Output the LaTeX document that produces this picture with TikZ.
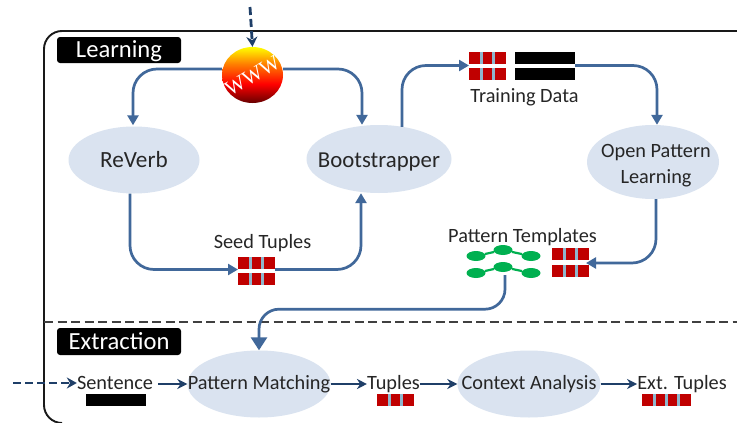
\documentclass[tikz,border=0pt]{standalone}
\usepackage{fontspec}
\setmainfont{Carlito}
\newfontfamily\wwwfont{Liberation Serif}
\usetikzlibrary{arrows.meta,shapes.geometric,calc}
\definecolor{flowblue}{HTML}{41689A}
\definecolor{navy}{HTML}{1F3F68}
\definecolor{ell}{HTML}{DAE3F0}
\definecolor{brick}{HTML}{C00000}
\definecolor{stripe}{HTML}{8FB6CC}
\definecolor{leaf}{HTML}{00B050}
\pgfdeclareverticalshading{wwwshade}{100bp}{color(0bp)=(black!55!red);color(25bp)=(black!60!red);color(42bp)=(red);color(60bp)=(orange);color(75bp)=(yellow);color(100bp)=(yellow)}
\tikzset{
  flow/.style={draw=flowblue,line width=2.7pt,rounded corners=24pt,-{Triangle[length=10pt,width=11pt]}},
  flowbig/.style={draw=flowblue,line width=2.7pt,rounded corners=20pt,-{Triangle[length=13pt,width=16pt]}},
  small/.style={draw=navy,line width=2.6pt,-{Stealth[length=10pt,width=10pt]}},
  dashin/.style={draw=navy,line width=2.8pt,dash pattern=on 8pt off 4pt,-{Stealth[length=10pt,width=11pt]}},
  blob/.style={ellipse,fill=ell,inner sep=0pt},
  txt/.style={font=\fontsize{20.3}{24}\selectfont,text=black!85,inner sep=0pt},
  big/.style={font=\fontsize{23.2}{27}\selectfont,text=black!85,inner sep=0pt},
  tag/.style={fill=black,rounded corners=3pt,text=white,minimum width=124pt,minimum height=26pt,inner sep=0pt,font=\fontsize{24.6}{28}\selectfont},
  bar/.style={fill=black,inner sep=0pt,minimum height=12pt},
  cell/.style={fill=brick,inner sep=0pt,minimum height=12pt},
  leafdot/.style={ellipse,fill=leaf,inner sep=0pt,minimum width=19pt,minimum height=10pt},
  leafline/.style={draw=leaf,line width=2.2pt},
}
% \redbar{name}{centre x}{centre y}{width}{list of stripe offsets from the centre}
\newcommand{\redbar}[5]{%
  \node[cell,minimum width=#4pt] (#1) at (#2,#3) {};
  \foreach \s in {#5} {\fill[stripe] ($(#1.center)+(\s-1.5,-6)$) rectangle ($(#1.center)+(\s+1.5,6)$);}
}
\begin{document}
\begin{tikzpicture}[x=1pt,y=-1pt]
\useasboundingbox (0,0) rectangle (737,423);
\fill[white] (0,0) rectangle (737,423);
% frame
\coordinate (frameTR) at (737,31);
\draw[line width=1.9pt,black!90] (frameTR) -- (62,31) arc[start angle=90,end angle=180,radius=18pt] -- (44,405) arc[start angle=180,end angle=270,radius=18pt];
\coordinate (sepL) at (44,322);
\coordinate (sepR) at (737,322);
\draw[line width=2pt,black!75,dash pattern=on 9pt off 4.5pt] (sepL) -- (sepR);
% tags
\node[tag,text height=17pt,text depth=3pt] (learn) at (119,50) {Learning};
\node[tag,minimum height=27pt,text height=18pt,text depth=2pt] (extr) at (119,341.5) {Extraction};
% ellipses
\node[blob,minimum width=131pt,minimum height=67pt,label={[big]center:ReVerb}] (reverb) at (134,160) {};
\node[blob,minimum width=145pt,minimum height=68pt,label={[big,font=\fontsize{22.8}{27}\selectfont,yshift=-3pt]center:Bootstrapper}] (boot) at (379,159) {};
\node[blob,minimum width=132pt,minimum height=74pt,label={[txt,align=center,xshift=3pt,yshift=-3.5pt]center:Open Pattern\\[2.5pt]Learning}] (opl) at (653,162) {};
\node[blob,minimum width=143pt,minimum height=67pt,label={[txt]center:Pattern Matching}] (pm) at (259,384) {};
\node[blob,minimum width=143pt,minimum height=67pt,label={[txt]center:Context Analysis}] (ca) at (529,384) {};
% www
\node[ellipse,minimum width=61pt,minimum height=56pt,inner sep=0pt,shading=wwwshade] (www) at (252.5,75) {};
\node[rotate=30,text=white,inner sep=0pt,font=\wwwfont\fontsize{21}{24}\selectfont] (wwwtext) at (252.5,76) {WWW};
\coordinate (wwwin) at (250,7);
\draw[dashin] (wwwin) -- (www.north);
% labels
\node[txt] (seedlabel) at (262.5,243) {Seed Tuples};
\node[txt] (trainlabel) at (524.5,97) {Training Data};
\node[txt] (templabel) at (522.5,237) {Pattern Templates};
\node[txt] (sent) at (115,383) {Sentence};
\node[txt] (tup) at (393.5,384.5) {Tuples};
\node[txt] (ext) at (682,384.5) {Ext. Tuples};
% record blocks
\redbar{seedA}{256.5}{262.5}{37}{-6,6}
\redbar{seedB}{256.5}{278.5}{37}{-6,6}
\redbar{trainA}{487.5}{57.5}{37}{-6,6}
\redbar{trainB}{487.5}{74}{37}{-6,6}
\node[bar,minimum width=60pt] (blackA) at (545,57.5) {};
\node[bar,minimum width=60pt] (blackB) at (545,74) {};
\redbar{patA}{570}{254}{37}{-6,6}
\redbar{patB}{570}{271}{37}{-6,6}
\node[bar,minimum width=60pt] (sentbar) at (116,400) {};
\redbar{tupbar}{395}{400}{37}{-6,6}
\redbar{extbar}{666}{400}{49}{-12,0,12}
\coordinate (seedL) at (238,269.5);
\coordinate (seedR) at (275,269.5);
\coordinate (trainL) at (469,65.5);
\coordinate (trainR) at (575,65.5);
\coordinate (patR) at (586,263);
% templates
\node[leafdot] (g1) at (476,256) {};
\node[leafdot] (g2) at (503,250) {};
\node[leafdot] (g3) at (531,256) {};
\node[leafdot] (g4) at (476,273) {};
\node[leafdot] (g5) at (503,267) {};
\node[leafdot] (g6) at (531,273) {};
\draw[leafline] (g1) -- (g2);
\draw[leafline] (g2) -- (g3);
\draw[leafline] (g4) -- (g5);
\draw[leafline] (g5) -- (g6);
% flows
\draw[flow] (www.west |- 0,69) -| ($(reverb.north)+(-1,-1)$);
\draw[flow] (www.east |- 0,69) -| ($(boot.north)+(-17,0)$);
\draw[flow] ($(reverb.south)+(-4,0)$) |- (seedL);
\draw[flow] (seedR) -| ($(boot.south)+(-18,0)$);
\draw[flow] ($(boot.north)+(23,2)$) |- (trainL);
\draw[flow] (trainR) -| ($(opl.north)+(4,0)$);
\draw[flow] ($(opl.south)+(3,0)$) |- (patR);
\draw[flowbig] ($(g5.south)+(2,3)$) -- ++(0,34) -| (pm.north);
% bottom row
\coordinate (sentin) at (13,383);
\draw[dashin] (sentin) -- (sent.west);
\coordinate (sentout) at (158,384);
\draw[small] (sentout) -- (pm.west);
\draw[small] (pm.east) -- (pm.east -| tup.west);
\draw[small] (ca.west -| tup.east) -- (ca.west);
\draw[small] (ca.east) -- (ca.east -| ext.west);
\end{tikzpicture}
\end{document}
